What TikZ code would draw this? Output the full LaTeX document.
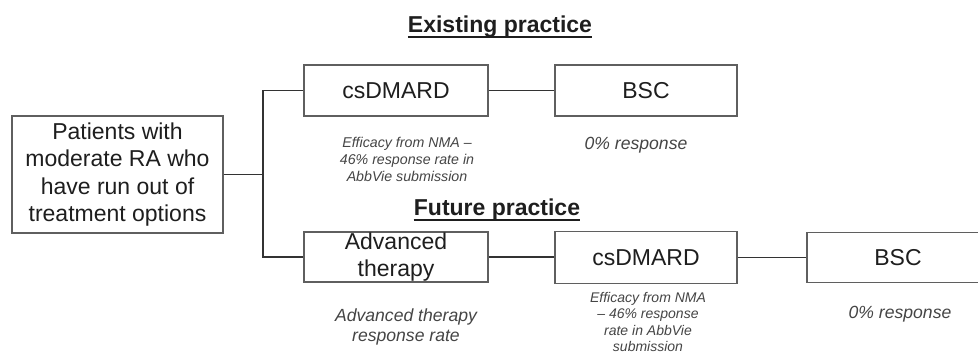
\documentclass[tikz,border=0pt]{standalone}
\usepackage{fontspec}
\setmainfont{Liberation Sans}
\definecolor{boxline}{HTML}{5F5F5F}
\definecolor{txt}{HTML}{1E1E1E}
\definecolor{conn}{HTML}{333333}
\definecolor{note}{HTML}{454545}
\tikzset{
  box/.style={draw=boxline, line width=1.4pt, text=txt, align=center, inner sep=0pt,
    font=\fontsize{23}{27.6}\selectfont},
  conn/.style={draw=conn, line width=1.9pt},
  notesm/.style={text=note, align=center, inner sep=0pt, font=\fontsize{14.2}{16.8}\selectfont\itshape},
  notetight/.style={text=note, align=center, inner sep=0pt, font=\fontsize{14}{16.2}\selectfont\itshape},
  notelg/.style={text=note, align=center, inner sep=0pt, font=\fontsize{17.6}{20.6}\selectfont\itshape},
  ttl/.style={text=txt, inner sep=0pt, anchor=base, font=\fontsize{23}{27}\selectfont\bfseries},
  ul/.style={draw=txt, line width=1.8pt}
}
\begin{document}
\begin{tikzpicture}[x=1pt,y=-1pt]
\useasboundingbox (0,0) rectangle (978,355);
\clip (0,0) rectangle (978,355);
\fill[white] (0,0) rectangle (978,355);
% titles
\node[ttl] (t1) at (500,33) {Existing practice};
\draw[ul] ([yshift=-4pt]t1.base west) -- ([yshift=-4pt]t1.base east);
\node[ttl] (t2) at (497,216) {Future practice};
\draw[ul] ([yshift=-4pt]t2.base west) -- ([yshift=-4pt]t2.base east);
% boxes
\node[box, minimum width=211pt, minimum height=117pt] (pat) at (117.5,174.5)
  {Patients with\\moderate RA who\\have run out of\\treatment options};
\node[box, minimum width=184pt, minimum height=51pt] (cs1) at (396,90.5) {csDMARD};
\node[box, minimum width=182pt, minimum height=51pt] (bsc1) at (646,90.5) {BSC};
\node[box, minimum width=184pt, minimum height=50pt] (adv) at (396,257) {Advanced\\therapy};
\node[box, minimum width=182pt, minimum height=52pt] (cs2) at (646,257.5) {csDMARD};
\node[box, minimum width=182pt, minimum height=50pt] (bsc2) at (898,257.5) {BSC};
% connectors
\coordinate (j) at (263,174.5);
\draw[conn] (pat.east) -- (j);
\draw[conn] (cs1.west) -| (j) |- (adv.west);
\draw[conn] (cs1.east) -- (bsc1.west);
\draw[conn] (adv.east) -- (adv.east -| cs2.west);
\draw[conn] (cs2.east) -- (bsc2.west);
% notes
\node[notesm] (n1) at (407,159.5) {Efficacy from NMA --\\46\% response rate in\\AbbVie submission};
\node[notelg] (n2) at (636,145) {0\% response};
\node[notelg] (n3) at (406,327) {Advanced therapy\\response rate};
\node[notetight] (n4) at (648,322) {Efficacy from NMA\\-- 46\% response\\rate in AbbVie\\submission};
\node[notelg] (n5) at (900,314) {0\% response};
\end{tikzpicture}
\end{document}
